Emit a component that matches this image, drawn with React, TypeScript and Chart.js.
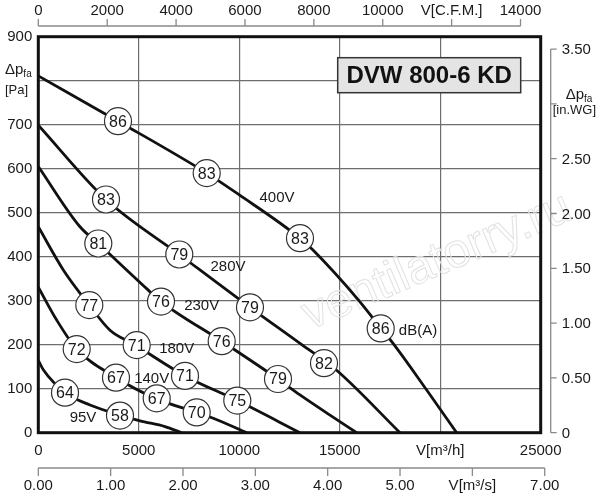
import React, { useEffect, useRef } from 'react';
import { Chart, registerables } from 'chart.js';

Chart.register(...registerables);

const FONT = '"Liberation Sans", Arial, Helvetica, sans-serif';

// secondary axes (drawn from the main scales)
const cfmTicks = [0, 2000, 4000, 6000, 8000, 10000, 12000, 14000];
const inwgTicks = [0, 0.5, 1, 1.5, 2, 2.5, 3, 3.5];
const m3sTicks = [0, 1, 2, 3, 4, 5, 6, 7];
const cfmToM3h = 1.714; // as printed on the sheet
const inwgToPa = 249.09;
const m3sToM3h = 3600;

// fan curves: [V m3/h, dp Pa]
const curve400V = [[0, 811], [3966, 708], [8380, 590], [9952, 542], [13022, 442], [13669, 415], [15923, 302], [16590, 264], [17038, 237], [17586, 207], [19327, 97], [20820, 0]];
const curve280V = [[0, 699], [3369, 530], [7016, 405], [10534, 285], [13022, 203], [14814, 143], [17999, 0]];
const curve230V = [[0, 605], [2075, 468], [2986, 430], [5474, 324], [6106, 298], [9126, 208], [11928, 122], [13022, 86], [14515, 40], [15844, 0]];
const curve180V = [[0, 468], [1244, 370], [2538, 290], [3568, 233], [4762, 201], [7300, 129], [9902, 73], [13022, 0]];
const curve140V = [[0, 331], [915, 256], [1911, 190], [3841, 126], [5822, 78], [7882, 46], [8708, 33], [10370, 0]];
const curve95V = [[0, 165], [249, 143], [1378, 90], [2573, 63], [4065, 40], [5061, 27], [6305, 14], [7136, 0]];

// noise level badges: [V m3/h, dp Pa, dB(A)]
const badges400V = [[3966, 708, 86], [8380, 590, 83], [13022, 442, 83], [17038, 237, 86]];
const badges280V = [[3369, 530, 83], [7016, 405, 79], [10534, 285, 79], [14217, 158, 82]];
const badges230V = [[2986, 430, 81], [6106, 298, 76], [9126, 208, 76], [11928, 122, 79]];
const badges180V = [[2538, 290, 77], [4896, 199, 71], [7300, 129, 71], [9902, 73, 75]];
const badges140V = [[1911, 190, 72], [3866, 125, 67], [5892, 78, 67], [7882, 46, 70]];
const badges95V = [[1329, 91, 64], [4065, 39, 58]];

const curveLabels: [string, number, number][] = [
  ['400V', 11876, 537], ['280V', 9440, 379], ['230V', 8131, 290], ['180V', 6887, 192],
  ['140V', 5643, 125], ['95V', 2224, 36], ['dB(A)', 18896, 233],
];

const title = 'DVW 800-6 KD';

const curves = [curve400V, curve280V, curve230V, curve180V, curve140V, curve95V];
const badges = [...badges400V, ...badges280V, ...badges230V, ...badges180V, ...badges140V, ...badges95V];

const drawDp = (ctx: CanvasRenderingContext2D, x: number, y: number) => {
  ctx.textAlign = 'left';
  ctx.textBaseline = 'alphabetic';
  ctx.font = `15px ${FONT}`;
  ctx.fillText('Δp', x, y);
  const w = ctx.measureText('Δp').width;
  ctx.font = `10px ${FONT}`;
  ctx.fillText('fa', x + w, y + 3);
};

const overlay = {
  id: 'overlay',
  beforeDatasetsDraw(chart: any) {
    const { ctx, chartArea: a } = chart;
    ctx.save();
    // watermark
    ctx.translate(437, 262);
    ctx.rotate(-0.4);
    ctx.font = `48px ${FONT}`;
    ctx.textAlign = 'center';
    ctx.textBaseline = 'middle';
    ctx.strokeStyle = '#e2e2e2';
    ctx.lineWidth = 1;
    ctx.strokeText('ventilatorry.ru', 0, 0);
    ctx.restore();

    ctx.save();
    ctx.lineWidth = 3;
    ctx.strokeStyle = '#111';
    ctx.strokeRect(a.left, a.top, a.right - a.left, a.bottom - a.top);
    ctx.restore();
  },
  afterDatasetsDraw(chart: any) {
    const { ctx, chartArea: a, scales } = chart;
    const x = scales.x;
    const y = scales.y;
    ctx.save();
    ctx.fillStyle = '#1a1a1a';

    // badge numbers
    const meta = chart.getDatasetMeta(curves.length);
    ctx.font = `16px ${FONT}`;
    ctx.textAlign = 'center';
    ctx.textBaseline = 'middle';
    meta.data.forEach((pt: any, i: number) => {
      ctx.fillText(String(badges[i][2]), pt.x, pt.y + 1);
    });

    // curve labels
    ctx.font = `15px ${FONT}`;
    curveLabels.forEach(([t, q, p]) => {
      ctx.fillText(t, x.getPixelForValue(q), y.getPixelForValue(p) + 1);
    });

    // title box
    const bx = a.right - 203;
    const by = a.top + 21;
    ctx.fillStyle = '#e4e4e4';
    ctx.fillRect(bx, by, 183, 35);
    ctx.strokeStyle = '#333';
    ctx.lineWidth = 1.5;
    ctx.strokeRect(bx, by, 183, 35);
    ctx.fillStyle = '#111';
    ctx.font = `bold 24px ${FONT}`;
    ctx.fillText(title, bx + 91.5, by + 18.5);

    // secondary axes
    ctx.strokeStyle = '#8a8a8a';
    ctx.lineWidth = 1.3;
    ctx.fillStyle = '#1a1a1a';
    ctx.font = `15px ${FONT}`;

    // top: C.F.M.
    const ty = a.top - 10.7;
    ctx.beginPath();
    ctx.moveTo(x.getPixelForValue(0), ty);
    ctx.lineTo(x.getPixelForValue(cfmTicks[cfmTicks.length - 1] * cfmToM3h), ty);
    cfmTicks.forEach((v) => {
      const px = x.getPixelForValue(v * cfmToM3h);
      ctx.moveTo(px, ty);
      ctx.lineTo(px, ty - 7);
    });
    ctx.stroke();
    cfmTicks.forEach((v) => {
      const px = x.getPixelForValue(v * cfmToM3h);
      ctx.fillText(v === 12000 ? 'V[C.F.M.]' : String(v), px, a.top - 25.5);
    });

    // bottom: m3/s
    const my = a.bottom + 35.3;
    ctx.beginPath();
    ctx.moveTo(x.getPixelForValue(0), my);
    ctx.lineTo(x.getPixelForValue(m3sTicks[m3sTicks.length - 1] * m3sToM3h), my);
    m3sTicks.forEach((v) => {
      const px = x.getPixelForValue(v * m3sToM3h);
      ctx.moveTo(px, my);
      ctx.lineTo(px, my + 8);
    });
    ctx.stroke();
    m3sTicks.forEach((v) => {
      const px = x.getPixelForValue(v * m3sToM3h);
      ctx.fillText(v === 6 ? 'V[m³/s]' : v.toFixed(2), px, a.bottom + 53);
    });

    // right: in.WG
    const rx = a.right + 10;
    ctx.beginPath();
    ctx.moveTo(rx, y.getPixelForValue(0));
    ctx.lineTo(rx, y.getPixelForValue(inwgTicks[inwgTicks.length - 1] * inwgToPa));
    inwgTicks.forEach((v) => {
      const py = y.getPixelForValue(v * inwgToPa);
      ctx.moveTo(rx, py);
      ctx.lineTo(rx + 6, py);
    });
    ctx.stroke();
    ctx.textAlign = 'left';
    inwgTicks.forEach((v) => {
      if (v === 3) return;
      const py = y.getPixelForValue(v * inwgToPa);
      ctx.fillText(v === 0 ? '0' : v.toFixed(2), rx + 11, py + 1);
    });

    // axis titles
    const r3 = y.getPixelForValue(3 * inwgToPa);
    drawDp(ctx, rx + 15, r3 - 5);
    ctx.font = `13px ${FONT}`;
    ctx.textBaseline = 'middle';
    ctx.fillText('[in.WG]', rx + 2, r3 + 6.5);

    const l8 = y.getPixelForValue(800);
    drawDp(ctx, 5, l8 - 7);
    ctx.font = `13px ${FONT}`;
    ctx.textBaseline = 'middle';
    ctx.textAlign = 'left';
    ctx.fillText('[Pa]', 5, l8 + 10);

    ctx.restore();
  },
};

export default function App() {
  const canvasRef = useRef<HTMLCanvasElement>(null);

  useEffect(() => {
    document.body.style.margin = '0';
    if (!canvasRef.current) return;
    const datasets: any[] = curves.map((c) => ({
      data: c.map(([q, p]) => ({ x: q, y: p })),
      showLine: true,
      borderColor: '#111',
      borderWidth: 2.8,
      pointRadius: 0,
      cubicInterpolationMode: 'monotone',
      order: 2,
    }));
    datasets.push({
      data: badges.map(([q, p]) => ({ x: q, y: p })),
      showLine: false,
      pointRadius: 13.5,
      pointBackgroundColor: '#fff',
      pointBorderColor: '#333',
      pointBorderWidth: 1.2,
      order: 1,
    });

    const chart = new Chart(canvasRef.current, {
      type: 'scatter',
      data: { datasets },
      options: {
        responsive: false,
        animation: false,
        events: [],
        layout: { padding: { left: 0, top: 36.7, right: 59.3, bottom: 0 } },
        plugins: { legend: { display: false }, tooltip: { enabled: false } },
        scales: {
          x: {
            type: 'linear',
            min: 0,
            max: 25000,
            afterFit: (s: any) => { s.height = 67.3; },
            border: { display: false },
            grid: { color: '#6e6e6e', lineWidth: 1.2, drawTicks: false },
            ticks: {
              stepSize: 5000,
              padding: 9,
              maxRotation: 0,
              autoSkip: false,
              color: '#1a1a1a',
              font: { family: FONT, size: 15 },
              callback: (v: any) => (v === 20000 ? 'V[m³/h]' : String(v)),
            },
          },
          y: {
            type: 'linear',
            min: 0,
            max: 900,
            afterFit: (s: any) => { s.width = 38.3; },
            border: { display: false },
            grid: { color: '#6e6e6e', lineWidth: 1.2, drawTicks: false },
            ticks: {
              stepSize: 100,
              padding: 6,
              color: '#1a1a1a',
              font: { family: FONT, size: 15 },
              callback: (v: any) => (v === 800 ? '' : String(v)),
            },
          },
        },
      },
      plugins: [overlay],
    } as any);
    return () => chart.destroy();
  }, []);

  return (
    <div style={{ position: 'absolute', left: 0, top: 0, width: 600, height: 500 }}>
      <canvas ref={canvasRef} width={600} height={500} />
    </div>
  );
}
